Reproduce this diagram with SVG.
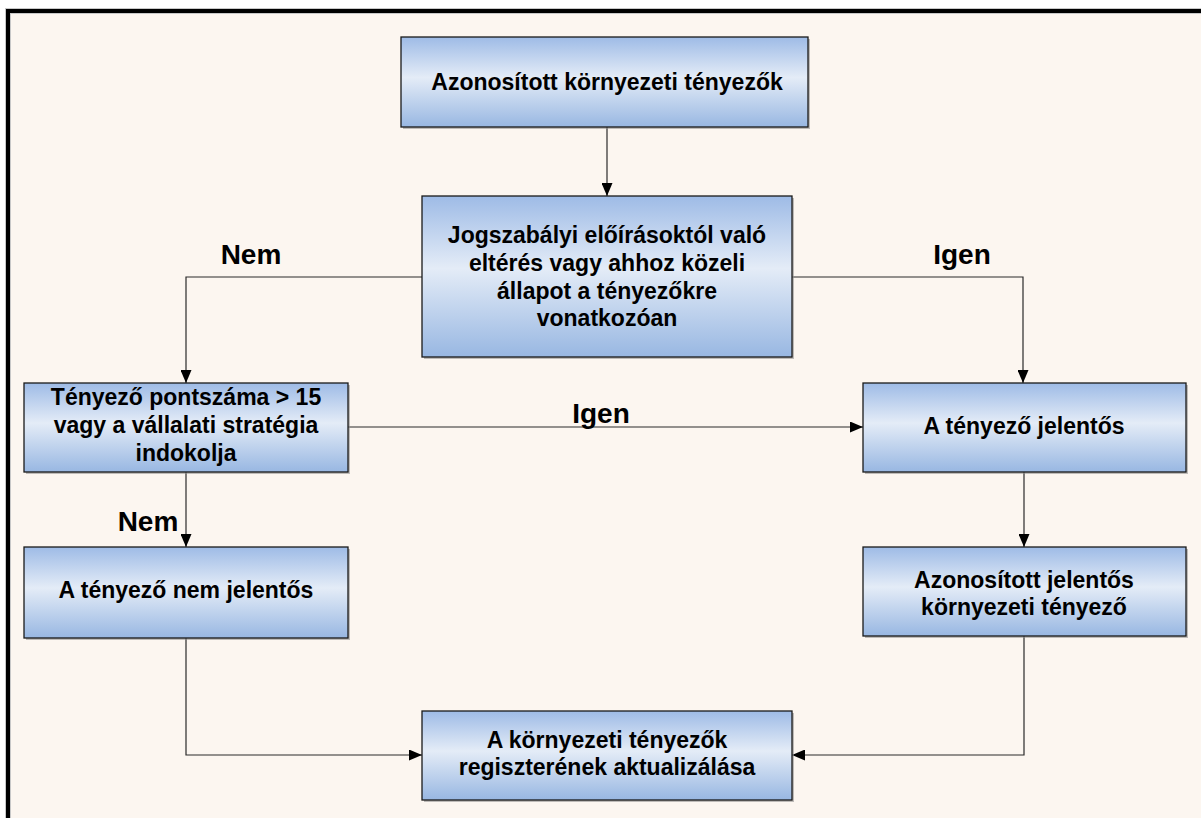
<svg xmlns="http://www.w3.org/2000/svg" width="1201" height="818" viewBox="0 0 1201 818">
  <defs>
    <linearGradient id="boxFill" x1="0" y1="0" x2="0" y2="1">
      <stop offset="0" stop-color="#9ebbe6"/>
      <stop offset="0.45" stop-color="#e4ecf7"/>
      <stop offset="1" stop-color="#98b7e2"/>
    </linearGradient>
    <marker id="arrow" viewBox="0 0 13 11" refX="13" refY="5.5" markerWidth="13" markerHeight="11" markerUnits="userSpaceOnUse" orient="auto">
      <path d="M0,0 L13,5.5 L0,11 Z" fill="#000"/>
    </marker>
  </defs>
  <style>
    .box { fill: url(#boxFill); stroke: #1a1a1a; stroke-width: 1.3; }
    .shadow { fill: #8a8a8a; opacity: 0.55; }
    .label { font-family: "Liberation Sans", Arial, sans-serif; font-weight: bold; font-size: 23px; fill: #000; text-anchor: middle; }
    .branch { font-family: "Liberation Sans", Arial, sans-serif; font-weight: bold; font-size: 28px; fill: #000; text-anchor: middle; }
    .conn { fill: none; stroke: #2a2a2a; stroke-width: 1.2; }
  </style>

  <!-- page background and frame -->
  <rect x="0" y="0" width="1201" height="818" fill="#ffffff"/>
  <rect x="8" y="11" width="1210" height="830" fill="#fcf6f0" stroke="#c8c8c8" stroke-width="6"/>
  <rect x="8" y="11" width="1210" height="830" fill="none" stroke="#000" stroke-width="4"/>

  <!-- connectors -->
  <g id="connectors">
    <path class="conn" d="M607,127 L607,196" marker-end="url(#arrow)"/>
    <path class="conn" d="M422,277 L186,277 L186,383" marker-end="url(#arrow)"/>
    <path class="conn" d="M792,277 L1023,277 L1023,383" marker-end="url(#arrow)"/>
    <path class="conn" d="M348,427 L863,427" marker-end="url(#arrow)"/>
    <path class="conn" d="M186,472 L186,547" marker-end="url(#arrow)"/>
    <path class="conn" d="M1024,472 L1024,547" marker-end="url(#arrow)"/>
    <path class="conn" d="M186,638 L186,755 L422,755" marker-end="url(#arrow)"/>
    <path class="conn" d="M1024,636 L1024,755 L792,755" marker-end="url(#arrow)"/>
    <text class="branch" x="251" y="264">Nem</text>
    <text class="branch" x="962" y="264">Igen</text>
    <text class="branch" x="601" y="423">Igen</text>
    <text class="branch" x="148" y="531">Nem</text>
  </g>

  <!-- nodes -->
  <g id="n-identified">
    <rect class="shadow" x="403" y="39" width="407" height="90"/>
    <rect class="box" x="401" y="37" width="407" height="90"/>
    <text class="label" x="607" y="90">Azonosított környezeti tényezők</text>
  </g>

  <g id="n-legal">
    <rect class="shadow" x="424" y="198" width="370" height="161"/>
    <rect class="box" x="422" y="196" width="370" height="161"/>
    <text class="label" x="607" y="243">Jogszabályi előírásoktól való</text>
    <text class="label" x="607" y="271">eltérés vagy ahhoz közeli</text>
    <text class="label" x="607" y="299">állapot a tényezőkre</text>
    <text class="label" x="607" y="326">vonatkozóan</text>
  </g>

  <g id="n-score">
    <rect class="shadow" x="26" y="385" width="324" height="89"/>
    <rect class="box" x="24" y="383" width="324" height="89"/>
    <text class="label" x="186" y="405">Tényező pontszáma &gt; 15</text>
    <text class="label" x="186" y="433">vagy a vállalati stratégia</text>
    <text class="label" x="186" y="461">indokolja</text>
  </g>

  <g id="n-significant">
    <rect class="shadow" x="865" y="385" width="323" height="89"/>
    <rect class="box" x="863" y="383" width="323" height="89"/>
    <text class="label" x="1024" y="434">A tényező jelentős</text>
  </g>

  <g id="n-not-significant">
    <rect class="shadow" x="26" y="549" width="324" height="91"/>
    <rect class="box" x="24" y="547" width="324" height="91"/>
    <text class="label" x="186" y="598">A tényező nem jelentős</text>
  </g>

  <g id="n-identified-significant">
    <rect class="shadow" x="865" y="549" width="323" height="89"/>
    <rect class="box" x="863" y="547" width="323" height="89"/>
    <text class="label" x="1024" y="588">Azonosított jelentős</text>
    <text class="label" x="1024" y="615">környezeti tényező</text>
  </g>

  <g id="n-register">
    <rect class="shadow" x="424" y="713" width="370" height="89"/>
    <rect class="box" x="422" y="711" width="370" height="89"/>
    <text class="label" x="607" y="748">A környezeti tényezők</text>
    <text class="label" x="607" y="775">regiszterének aktualizálása</text>
  </g>
</svg>
